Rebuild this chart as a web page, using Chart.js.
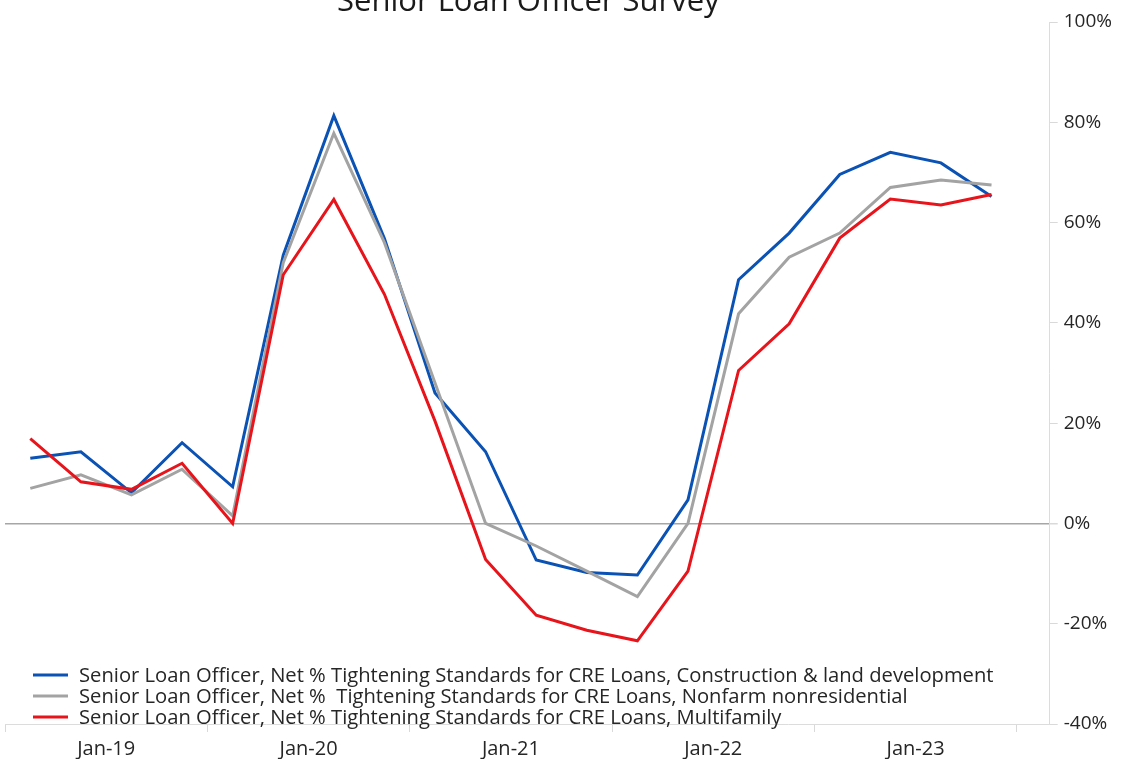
<!DOCTYPE html>
<html>
<head>
<meta charset="utf-8">
<title>Senior Loan Officer Survey</title>
<script src="https://cdn.jsdelivr.net/npm/chart.js@4.4.0/dist/chart.umd.min.js"></script>
<style>
  html, body { margin: 0; padding: 0; background: #fff; }
  #wrap { width: 1123px; height: 759px; position: relative; }
</style>
</head>
<body>
<div id="wrap"><canvas id="sloos"></canvas></div>
<script>
// quarterly survey dates, Q1 2019 .. Q4 2023
const quarters = [
  'Jan-19', 'Apr-19', 'Jul-19', 'Oct-19',
  'Jan-20', 'Apr-20', 'Jul-20', 'Oct-20',
  'Jan-21', 'Apr-21', 'Jul-21', 'Oct-21',
  'Jan-22', 'Apr-22', 'Jul-22', 'Oct-22',
  'Jan-23', 'Apr-23', 'Jul-23', 'Oct-23'
];
const yearLabels = ['Jan-19', 'Jan-20', 'Jan-21', 'Jan-22', 'Jan-23'];

// net % of banks tightening standards
const construction = [13.0, 14.3, 6.1, 16.1, 7.3, 53.5, 81.3, 56.8, 26.0, 14.3, -7.3, -9.8, -10.3, 4.7, 48.6, 57.9, 69.6, 74.0, 71.9, 65.2];
const nonfarm      = [7.0, 9.7, 5.7, 10.8, 1.5, 52.0, 77.8, 56.0, 28.0, 0.0, -4.5, -9.5, -14.6, 0.0, 41.8, 53.1, 57.9, 67.0, 68.5, 67.5];
const multifamily  = [16.9, 8.3, 6.8, 12.0, 0.0, 49.6, 64.6, 45.7, 20.4, -7.2, -18.3, -21.3, -23.4, -9.5, 30.5, 39.8, 56.9, 64.7, 63.5, 65.6];

const seriesNames = [
  'Senior Loan Officer, Net % Tightening Standards for CRE Loans, Construction & land development',
  'Senior Loan Officer, Net %  Tightening Standards for CRE Loans, Nonfarm nonresidential',
  'Senior Loan Officer, Net % Tightening Standards for CRE Loans, Multifamily'
];
const seriesColors = ['#0b52b5', '#a3a3a3', '#e8141b'];

const FONT = '"Open Sans", "Noto Sans", sans-serif';
const TEXT = '#262626';

const toPoints = arr => arr.map((v, i) => ({ x: i, y: v }));

// year boundaries get a tick mark, the middle of each year gets the label
const yearTicks = [];
yearLabels.forEach((lab, k) => {
  yearTicks.push({ value: 4 * k - 0.5, label: '' });
  yearTicks.push({ value: 4 * k + 1.5, label: lab });
});
yearTicks.push({ value: 4 * yearLabels.length - 0.5, label: '' });

const isBoundary = v => Math.abs((v + 0.5) % 4) < 1e-6;

const titlePlugin = {
  id: 'cutTitle',
  afterDraw(chart) {
    const ctx = chart.ctx;
    const area = chart.chartArea;
    ctx.save();
    ctx.font = '31px ' + FONT;
    ctx.fillStyle = '#1a1a1a';
    ctx.textAlign = 'center';
    ctx.textBaseline = 'alphabetic';
    ctx.fillText('Senior Loan Officer Survey', (area.left + area.right) / 2 + 1, 11);
    ctx.restore();
  }
};

const legendPlugin = {
  id: 'insideLegend',
  afterDatasetsDraw(chart) {
    const ctx = chart.ctx;
    const area = chart.chartArea;
    const rowH = 21;
    const x0 = area.left + 28;
    let y = area.bottom - 49;
    ctx.save();
    ctx.font = '20.2px ' + FONT;
    ctx.textBaseline = 'middle';
    chart.data.datasets.forEach(ds => {
      ctx.strokeStyle = ds.borderColor;
      ctx.lineWidth = 3;
      ctx.beginPath();
      ctx.moveTo(x0, y);
      ctx.lineTo(x0 + 35, y);
      ctx.stroke();
      ctx.fillStyle = TEXT;
      ctx.fillText(ds.label, x0 + 46, y + 1);
      y += rowH;
    });
    ctx.restore();
  }
};

const datasets = [construction, nonfarm, multifamily].map((arr, k) => ({
  label: seriesNames[k],
  data: toPoints(arr),
  borderColor: seriesColors[k],
  backgroundColor: seriesColors[k],
  borderWidth: 3,
  pointRadius: 0,
  tension: 0,
  fill: false,
  order: 2 - k
}));

new Chart(document.getElementById('sloos'), {
  type: 'line',
  data: { datasets },
  options: {
    responsive: true,
    maintainAspectRatio: false,
    animation: false,
    layout: { padding: { top: 22, left: 5, right: 5, bottom: -7 } },
    plugins: {
      legend: { display: false },
      tooltip: { enabled: false },
      title: { display: false }
    },
    scales: {
      x: {
        type: 'linear',
        min: -0.5,
        max: 20.15,
        afterBuildTicks: axis => { axis.ticks = yearTicks.map(t => ({ value: t.value })); },
        ticks: {
          autoSkip: false,
          maxRotation: 0,
          padding: 5,
          color: TEXT,
          font: { family: FONT, size: 20 },
          callback: v => {
            const t = yearTicks.find(t => Math.abs(t.value - v) < 1e-6);
            return t ? t.label : '';
          }
        },
        grid: {
          drawOnChartArea: false,
          tickLength: 8,
          tickColor: c => (c.tick && isBoundary(c.tick.value)) ? '#d9d9d9' : 'rgba(0,0,0,0)'
        },
        border: { display: true, color: '#dcdcdc', width: 1 }
      },
      y: {
        position: 'right',
        min: -40,
        max: 100,
        ticks: {
          stepSize: 20,
          padding: 6,
          color: TEXT,
          font: { family: FONT, size: 19 },
          callback: v => v + '%'
        },
        grid: {
          tickLength: 8,
          lineWidth: c => (c.tick && c.tick.value === 0) ? 1.5 : 1,
          color: c => (c.tick && c.tick.value === 0) ? '#a6a6a6' : 'rgba(0,0,0,0)',
          tickColor: '#d9d9d9'
        },
        border: { display: true, color: '#dcdcdc', width: 1 }
      }
    }
  },
  plugins: [titlePlugin, legendPlugin]
});
</script>
</body>
</html>
